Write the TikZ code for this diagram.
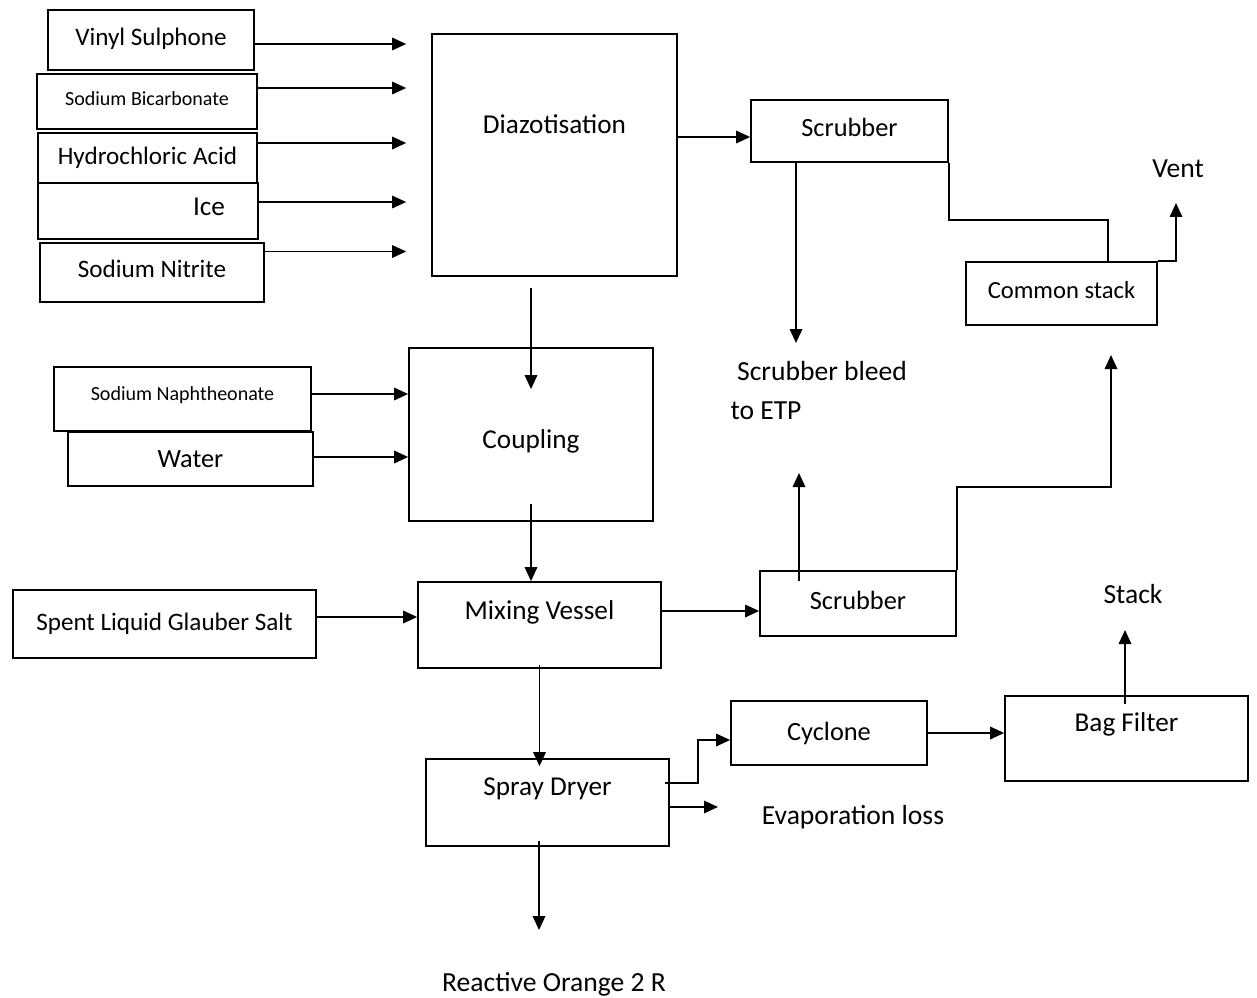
\documentclass[tikz,border=0pt]{standalone}
\usepackage{fontspec}
\setmainfont{Carlito}
\usetikzlibrary{arrows.meta}

\begin{document}
\begin{tikzpicture}[x=0.02cm,y=-0.02cm,
    box/.style={draw,line width=1pt,inner sep=0pt,font=\fontsize{15}{18}\selectfont},
    mid/.style={font=\fontsize{14.3}{17}\selectfont},
    small/.style={font=\fontsize{11.4}{14}\selectfont},
    lbl/.style={font=\fontsize{15.5}{18}\selectfont},
    txt/.style={font=\fontsize{15.7}{18}\selectfont},
    arr/.style={line width=1pt,-{Triangle[length=0.28cm,width=0.25cm]}}]
    \useasboundingbox (0,0) rectangle (1257,997);

    \node[box,mid,minimum width=4.12cm,minimum height=1.2cm,text depth=0.14cm] (vinyl) at (151,40) {Vinyl Sulphone};
    \node[box,small,minimum width=4.4cm,minimum height=1.1cm,text depth=0.12cm] (sbic) at (147,101.5) {Sodium Bicarbonate};
    \node[box,mid,minimum width=4.38cm,minimum height=1cm] (hcl) at (147.5,158) {Hydrochloric Acid};
    \node[box,minimum width=4.4cm,minimum height=1.12cm,label={[lbl,xshift=1.22cm,yshift=0.08cm]center:Ice}] (ice) at (148,211) {};
    \node[box,mid,minimum width=4.48cm,minimum height=1.18cm,text depth=0.16cm] (nitrite) at (152,272.5) {Sodium Nitrite};
    \node[box,minimum width=4.9cm,minimum height=4.84cm,label={[lbl,yshift=0.62cm]center:Diazotisation}] (diaz) at (554.5,155) {};

    \node[box,minimum width=3.94cm,minimum height=1.24cm,text depth=0.16cm] (scrub1) at (849.5,131) {Scrubber};
    \node[box,font=\fontsize{14}{17}\selectfont,minimum width=3.82cm,minimum height=1.26cm,text depth=0.16cm] (cstack) at (1061.5,293.5) {Common stack};

    \node[box,small,minimum width=5.14cm,minimum height=1.28cm,text depth=0.2cm] (snaph) at (182.5,399) {Sodium Naphtheonate};
    \node[box,minimum width=4.9cm,minimum height=1.08cm] (water) at (190.5,459) {Water};
    \node[box,minimum width=4.88cm,minimum height=3.46cm,label={[lbl,yshift=-0.13cm]center:Coupling}] (coupling) at (531,434.5) {};

    \node[box,mid,minimum width=6.06cm,minimum height=1.36cm] (spent) at (164.5,624) {Spent Liquid Glauber Salt};
    \node[box,minimum width=4.86cm,minimum height=1.72cm,label={[lbl,yshift=0.26cm]center:Mixing Vessel}] (mixing) at (539.5,625) {};
    \node[box,minimum width=3.92cm,minimum height=1.3cm,text depth=0.12cm] (scrub2) at (858,603.5) {Scrubber};

    \node[box,minimum width=3.92cm,minimum height=1.28cm] (cyclone) at (829,733) {Cyclone};
    \node[box,minimum width=4.86cm,minimum height=1.7cm,label={[lbl,yshift=0.29cm]center:Bag Filter}] (bagf) at (1126.5,738.5) {};
    \node[box,minimum width=4.86cm,minimum height=1.74cm,label={[lbl,yshift=0.27cm]center:Spray Dryer}] (spray) at (547.5,802.5) {};

    \node[txt] (bleed) at (822,371) {Scrubber bleed};
    \node[txt] (etp) at (766,411) {to ETP};
    \node[txt] (vent) at (1178,169) {Vent};
    \node[txt] (stack) at (1133,594) {Stack};
    \node[txt] (evap) at (853,817) {Evaporation loss};
    \node[txt] (prod) at (554,984) {Reactive Orange 2 R};

    \coordinate (bleedin) at (796,343);
    \coordinate (etpin) at (799,473);
    \coordinate (ventin) at (1176,203);
    \coordinate (csin) at (1111,355);
    \coordinate (stackin) at (1125,630);
    \coordinate (evapin) at (718,807);
    \coordinate (prodin) at (539,930);

    \foreach \n/\s in {vinyl/-0.08,sbic/0.27,hcl/0.3,ice/0.18,nitrite/0.42}{
        \coordinate (in) at ([yshift=\s cm]\n.east);
        \draw[arr,shorten >=0.5cm] (in) -- (in -| diaz.west);
    }
    \coordinate (d1) at ([yshift=0.36cm]diaz.east);
    \draw[arr] (d1) -- (d1 -| scrub1.west);
    \draw[arr] (scrub1.south -| bleedin) -- (bleedin);
    \draw[line width=1pt] (scrub1.south east) -- ++(0,57) -| ([xshift=0.93cm]cstack.north);
    \draw[arr] (cstack.north east) -| (ventin);

    \draw[arr,shorten <=0.22cm,shorten >=-0.84cm] (diaz.south -| coupling.north) -- (coupling.north);
    \foreach \n/\s in {snaph/0.1,water/0.04}{
        \coordinate (in) at ([yshift=\s cm]\n.east);
        \draw[arr] (in) -- (in -| coupling.west);
    }
    \draw[arr,shorten <=-0.36cm] (coupling.south) -- (coupling.south |- mixing.north);

    \coordinate (sp) at ([yshift=0.14cm]spent.east);
    \draw[arr] (sp) -- (sp -| mixing.west);
    \coordinate (m1) at ([yshift=0.28cm]mixing.east);
    \draw[arr] (m1) -- (m1 -| scrub2.west);
    \draw[arr,shorten <=-0.22cm] (scrub2.north -| etpin) -- (etpin);
    \draw[arr] (scrub2.north east) -- ++(0,-83) -| (csin);

    \draw[arr,shorten <=-0.08cm,shorten >=-0.16cm] (mixing.south) -- (mixing.south |- spray.north);
    \coordinate (s1) at ([yshift=0.39cm]spray.east);
    \draw[arr] ([xshift=-0.1cm]s1) -- ++(33,0) |- ([yshift=-0.14cm]cyclone.west);
    \draw[arr] (spray.east |- evapin) -- (evapin);
    \draw[arr] (cyclone.east) -- (cyclone.east -| bagf.west);
    \draw[arr,shorten <=-0.18cm] (bagf.north -| stackin) -- (stackin);
    \draw[arr,shorten <=-0.12cm] (spray.south -| prodin) -- (prodin);
\end{tikzpicture}
\end{document}
